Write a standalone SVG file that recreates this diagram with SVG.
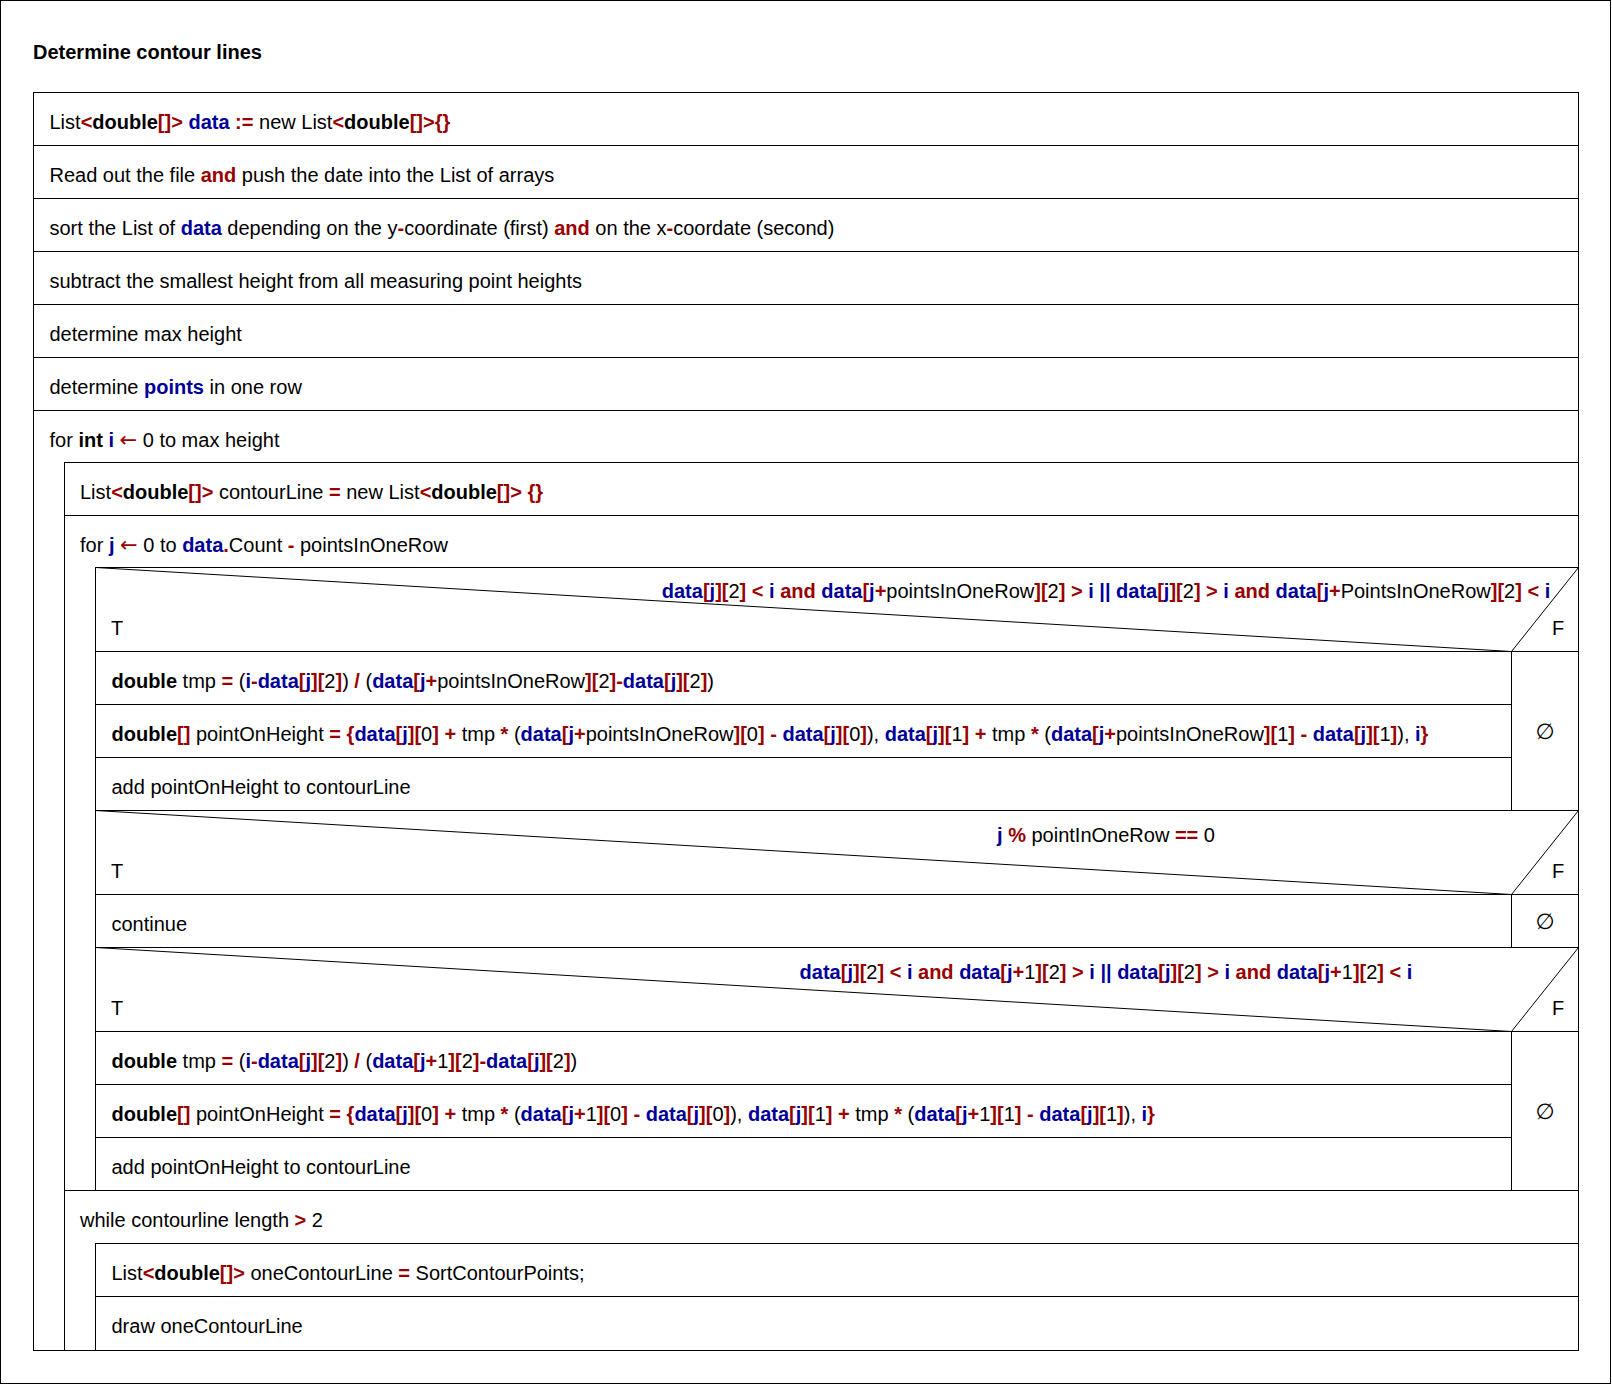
<svg xmlns="http://www.w3.org/2000/svg" width="1612" height="1385" viewBox="0 0 1612 1385">
  <style>
    text { font-family: "Liberation Sans", Arial, sans-serif; font-size: 20px; fill: #000; }
    .title { font-weight: bold; }
    .k { font-weight: bold; }
    .v { font-weight: bold; fill: #000099; }
    .o { font-weight: bold; fill: #990000; }
    .arr { fill: #990000; font-family: "DejaVu Sans", sans-serif; font-size: 21px; }
    .cond { text-anchor: middle; }
    .empty { font-family: "DejaVu Sans", sans-serif; font-size: 22px; text-anchor: middle; }
    .box { fill: none; stroke: #000; stroke-width: 1; }
    .diag { fill: none; stroke: #000; stroke-width: 1; }
  </style>

  <!-- sheet border and title -->
  <rect x="0.5" y="0.5" width="1610" height="1383" fill="#fff" stroke="#000"/>
  <text class="title" x="33" y="59">Determine contour lines</text>

  <!-- outer program box -->
  <rect class="box" x="33.5" y="92.5" width="1545" height="1258"/>

  <g id="decl-data">
    <rect class="box" x="33.5" y="92.5" width="1545" height="53"/>
    <text x="49.5" y="129">List<tspan class="o">&lt;</tspan><tspan class="k">double</tspan><tspan class="o">[]&gt;</tspan> <tspan class="v">data</tspan> <tspan class="o">:=</tspan> new List<tspan class="o">&lt;</tspan><tspan class="k">double</tspan><tspan class="o">[]&gt;{}</tspan></text>
  </g>

  <g id="read-file">
    <rect class="box" x="33.5" y="145.5" width="1545" height="53"/>
    <text x="49.5" y="182">Read out the file <tspan class="o">and</tspan> push the date into the List of arrays</text>
  </g>

  <g id="sort-data">
    <rect class="box" x="33.5" y="198.5" width="1545" height="53"/>
    <text x="49.5" y="235">sort the List of <tspan class="v">data</tspan> depending on the y<tspan class="o">-</tspan>coordinate (first) <tspan class="o">and</tspan> on the x<tspan class="o">-</tspan>coordate (second)</text>
  </g>

  <g id="subtract-min">
    <rect class="box" x="33.5" y="251.5" width="1545" height="53"/>
    <text x="49.5" y="288">subtract the smallest height from all measuring point heights</text>
  </g>

  <g id="max-height">
    <rect class="box" x="33.5" y="304.5" width="1545" height="53"/>
    <text x="49.5" y="341">determine max height</text>
  </g>

  <g id="points-per-row">
    <rect class="box" x="33.5" y="357.5" width="1545" height="53"/>
    <text x="49.5" y="394">determine <tspan class="v">points</tspan> in one row</text>
  </g>

  <!-- for i loop -->
  <g id="loop-i">
    <path class="box" d="M33.5,410.5 H1578.5 V462.5 H64.5 V1350.5 H33.5 Z"/>
    <text x="49.5" y="447">for <tspan class="k">int</tspan> <tspan class="v">i</tspan> <tspan class="arr">←</tspan> 0 to max height</text>
  </g>

  <g id="decl-contour">
    <rect class="box" x="64.5" y="462.5" width="1514" height="53"/>
    <text x="80" y="499">List<tspan class="o">&lt;</tspan><tspan class="k">double</tspan><tspan class="o">[]&gt;</tspan> contourLine <tspan class="o">=</tspan> new List<tspan class="o">&lt;</tspan><tspan class="k">double</tspan><tspan class="o">[]&gt;</tspan> <tspan class="o">{}</tspan></text>
  </g>

  <!-- for j loop -->
  <g id="loop-j">
    <path class="box" d="M64.5,515.5 H1578.5 V567.5 H95.5 V1190.5 H64.5 Z"/>
    <text x="80" y="552">for <tspan class="v">j</tspan> <tspan class="arr">←</tspan> 0 to <tspan class="v">data</tspan><tspan class="o">.</tspan>Count <tspan class="o">-</tspan> pointsInOneRow</text>
  </g>

  <!-- vertical neighbour test -->
  <g id="if-vertical">
    <rect class="box" x="95.5" y="567.5" width="1483" height="243"/>
    <polyline class="diag" points="95.5,567.5 1511.5,651.5 1578.5,567.5"/>
    <line class="box" x1="95.5" y1="651.5" x2="1578.5" y2="651.5"/>
    <line class="box" x1="1511.5" y1="651.5" x2="1511.5" y2="810.5"/>
    <text class="cond" x="1106" y="598"><tspan class="v">data</tspan><tspan class="o">[</tspan><tspan class="v">j</tspan><tspan class="o">][</tspan>2<tspan class="o">]</tspan> <tspan class="o">&lt;</tspan> <tspan class="v">i</tspan> <tspan class="o">and</tspan> <tspan class="v">data</tspan><tspan class="o">[</tspan><tspan class="v">j</tspan><tspan class="o">+</tspan>pointsInOneRow<tspan class="o">][</tspan>2<tspan class="o">]</tspan> <tspan class="o">&gt;</tspan> <tspan class="v">i</tspan> <tspan class="v">||</tspan> <tspan class="v">data</tspan><tspan class="o">[</tspan><tspan class="v">j</tspan><tspan class="o">][</tspan>2<tspan class="o">]</tspan> <tspan class="o">&gt;</tspan> <tspan class="v">i</tspan> <tspan class="o">and</tspan> <tspan class="v">data</tspan><tspan class="o">[</tspan><tspan class="v">j</tspan><tspan class="o">+</tspan>PointsInOneRow<tspan class="o">][</tspan>2<tspan class="o">]</tspan> <tspan class="o">&lt;</tspan> <tspan class="v">i</tspan></text>
    <text x="111" y="634.5">T</text>
    <text x="1552" y="634.5">F</text>
    <text class="empty" x="1545" y="739">∅</text>
  </g>

  <g id="tmp-vertical">
    <rect class="box" x="95.5" y="651.5" width="1416" height="53"/>
    <text x="111.5" y="688"><tspan class="k">double</tspan> tmp <tspan class="o">=</tspan> (<tspan class="v">i</tspan><tspan class="o">-</tspan><tspan class="v">data</tspan><tspan class="o">[</tspan><tspan class="v">j</tspan><tspan class="o">][</tspan>2<tspan class="o">]</tspan>) <tspan class="o">/</tspan> (<tspan class="v">data</tspan><tspan class="o">[</tspan><tspan class="v">j</tspan><tspan class="o">+</tspan>pointsInOneRow<tspan class="o">][</tspan>2<tspan class="o">]-</tspan><tspan class="v">data</tspan><tspan class="o">[</tspan><tspan class="v">j</tspan><tspan class="o">][</tspan>2<tspan class="o">]</tspan>)</text>
  </g>

  <g id="point-vertical">
    <rect class="box" x="95.5" y="704.5" width="1416" height="53"/>
    <text x="111.5" y="741"><tspan class="k">double</tspan><tspan class="o">[]</tspan> pointOnHeight <tspan class="o">=</tspan> <tspan class="o">{</tspan><tspan class="v">data</tspan><tspan class="o">[</tspan><tspan class="v">j</tspan><tspan class="o">][</tspan>0<tspan class="o">]</tspan> <tspan class="o">+</tspan> tmp <tspan class="o">*</tspan> (<tspan class="v">data</tspan><tspan class="o">[</tspan><tspan class="v">j</tspan><tspan class="o">+</tspan>pointsInOneRow<tspan class="o">][</tspan>0<tspan class="o">]</tspan> <tspan class="o">-</tspan> <tspan class="v">data</tspan><tspan class="o">[</tspan><tspan class="v">j</tspan><tspan class="o">][</tspan>0<tspan class="o">]</tspan>), <tspan class="v">data</tspan><tspan class="o">[</tspan><tspan class="v">j</tspan><tspan class="o">][</tspan>1<tspan class="o">]</tspan> <tspan class="o">+</tspan> tmp <tspan class="o">*</tspan> (<tspan class="v">data</tspan><tspan class="o">[</tspan><tspan class="v">j</tspan><tspan class="o">+</tspan>pointsInOneRow<tspan class="o">][</tspan>1<tspan class="o">]</tspan> <tspan class="o">-</tspan> <tspan class="v">data</tspan><tspan class="o">[</tspan><tspan class="v">j</tspan><tspan class="o">][</tspan>1<tspan class="o">]</tspan>), <tspan class="v">i</tspan><tspan class="o">}</tspan></text>
  </g>

  <g id="add-vertical">
    <rect class="box" x="95.5" y="757.5" width="1416" height="53"/>
    <text x="111.5" y="794">add pointOnHeight to contourLine</text>
  </g>

  <!-- row start test -->
  <g id="if-row-start">
    <rect class="box" x="95.5" y="810.5" width="1483" height="137"/>
    <polyline class="diag" points="95.5,810.5 1511.5,894.5 1578.5,810.5"/>
    <line class="box" x1="95.5" y1="894.5" x2="1578.5" y2="894.5"/>
    <line class="box" x1="1511.5" y1="894.5" x2="1511.5" y2="947.5"/>
    <text class="cond" x="1106" y="841.5"><tspan class="v">j</tspan> <tspan class="o">%</tspan> pointInOneRow <tspan class="o">==</tspan> 0</text>
    <text x="111" y="877.5">T</text>
    <text x="1552" y="877.5">F</text>
    <text class="empty" x="1545" y="929">∅</text>
  </g>

  <g id="continue">
    <rect class="box" x="95.5" y="894.5" width="1416" height="53"/>
    <text x="111.5" y="931">continue</text>
  </g>

  <!-- horizontal neighbour test -->
  <g id="if-horizontal">
    <rect class="box" x="95.5" y="947.5" width="1483" height="243"/>
    <polyline class="diag" points="95.5,947.5 1511.5,1031.5 1578.5,947.5"/>
    <line class="box" x1="95.5" y1="1031.5" x2="1578.5" y2="1031.5"/>
    <line class="box" x1="1511.5" y1="1031.5" x2="1511.5" y2="1190.5"/>
    <text class="cond" x="1106" y="979"><tspan class="v">data</tspan><tspan class="o">[</tspan><tspan class="v">j</tspan><tspan class="o">][</tspan>2<tspan class="o">]</tspan> <tspan class="o">&lt;</tspan> <tspan class="v">i</tspan> <tspan class="o">and</tspan> <tspan class="v">data</tspan><tspan class="o">[</tspan><tspan class="v">j</tspan><tspan class="o">+</tspan>1<tspan class="o">][</tspan>2<tspan class="o">]</tspan> <tspan class="o">&gt;</tspan> <tspan class="v">i</tspan> <tspan class="v">||</tspan> <tspan class="v">data</tspan><tspan class="o">[</tspan><tspan class="v">j</tspan><tspan class="o">][</tspan>2<tspan class="o">]</tspan> <tspan class="o">&gt;</tspan> <tspan class="v">i</tspan> <tspan class="o">and</tspan> <tspan class="v">data</tspan><tspan class="o">[</tspan><tspan class="v">j</tspan><tspan class="o">+</tspan>1<tspan class="o">][</tspan>2<tspan class="o">]</tspan> <tspan class="o">&lt;</tspan> <tspan class="v">i</tspan></text>
    <text x="111" y="1014.5">T</text>
    <text x="1552" y="1014.5">F</text>
    <text class="empty" x="1545" y="1119">∅</text>
  </g>

  <g id="tmp-horizontal">
    <rect class="box" x="95.5" y="1031.5" width="1416" height="53"/>
    <text x="111.5" y="1068"><tspan class="k">double</tspan> tmp <tspan class="o">=</tspan> (<tspan class="v">i</tspan><tspan class="o">-</tspan><tspan class="v">data</tspan><tspan class="o">[</tspan><tspan class="v">j</tspan><tspan class="o">][</tspan>2<tspan class="o">]</tspan>) <tspan class="o">/</tspan> (<tspan class="v">data</tspan><tspan class="o">[</tspan><tspan class="v">j</tspan><tspan class="o">+</tspan>1<tspan class="o">][</tspan>2<tspan class="o">]-</tspan><tspan class="v">data</tspan><tspan class="o">[</tspan><tspan class="v">j</tspan><tspan class="o">][</tspan>2<tspan class="o">]</tspan>)</text>
  </g>

  <g id="point-horizontal">
    <rect class="box" x="95.5" y="1084.5" width="1416" height="53"/>
    <text x="111.5" y="1121"><tspan class="k">double</tspan><tspan class="o">[]</tspan> pointOnHeight <tspan class="o">=</tspan> <tspan class="o">{</tspan><tspan class="v">data</tspan><tspan class="o">[</tspan><tspan class="v">j</tspan><tspan class="o">][</tspan>0<tspan class="o">]</tspan> <tspan class="o">+</tspan> tmp <tspan class="o">*</tspan> (<tspan class="v">data</tspan><tspan class="o">[</tspan><tspan class="v">j</tspan><tspan class="o">+</tspan>1<tspan class="o">][</tspan>0<tspan class="o">]</tspan> <tspan class="o">-</tspan> <tspan class="v">data</tspan><tspan class="o">[</tspan><tspan class="v">j</tspan><tspan class="o">][</tspan>0<tspan class="o">]</tspan>), <tspan class="v">data</tspan><tspan class="o">[</tspan><tspan class="v">j</tspan><tspan class="o">][</tspan>1<tspan class="o">]</tspan> <tspan class="o">+</tspan> tmp <tspan class="o">*</tspan> (<tspan class="v">data</tspan><tspan class="o">[</tspan><tspan class="v">j</tspan><tspan class="o">+</tspan>1<tspan class="o">][</tspan>1<tspan class="o">]</tspan> <tspan class="o">-</tspan> <tspan class="v">data</tspan><tspan class="o">[</tspan><tspan class="v">j</tspan><tspan class="o">][</tspan>1<tspan class="o">]</tspan>), <tspan class="v">i</tspan><tspan class="o">}</tspan></text>
  </g>

  <g id="add-horizontal">
    <rect class="box" x="95.5" y="1137.5" width="1416" height="53"/>
    <text x="111.5" y="1174">add pointOnHeight to contourLine</text>
  </g>

  <!-- while loop over remaining points -->
  <g id="loop-while">
    <path class="box" d="M64.5,1190.5 H1578.5 V1243.5 H95.5 V1350.5 H64.5 Z"/>
    <text x="80" y="1227">while contourline length <tspan class="o">&gt;</tspan> 2</text>
  </g>

  <g id="sort-contour">
    <rect class="box" x="95.5" y="1243.5" width="1483" height="53"/>
    <text x="111.5" y="1280">List<tspan class="o">&lt;</tspan><tspan class="k">double</tspan><tspan class="o">[]&gt;</tspan> oneContourLine <tspan class="o">=</tspan> SortContourPoints;</text>
  </g>

  <g id="draw-contour">
    <rect class="box" x="95.5" y="1296.5" width="1483" height="54"/>
    <text x="111.5" y="1333">draw oneContourLine</text>
  </g>

  <!-- no connectors in a structogram; blocks touch directly -->
  <g id="connectors"/>
</svg>
